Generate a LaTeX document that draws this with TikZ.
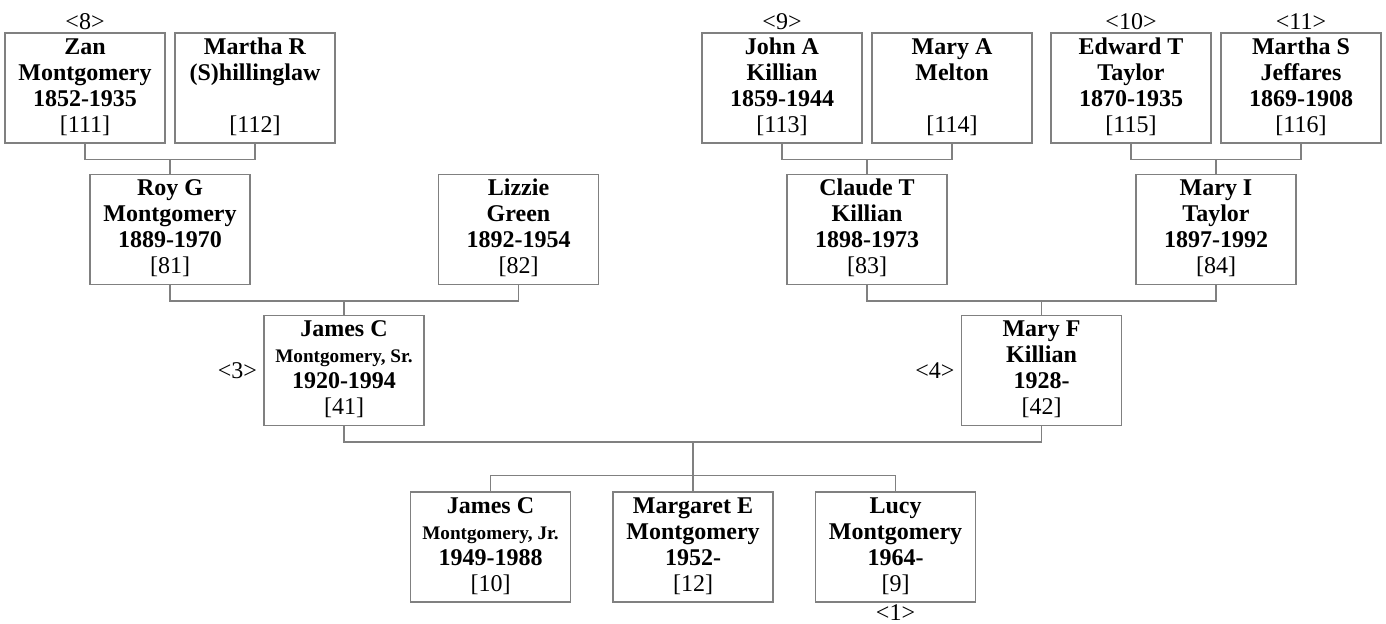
\documentclass[tikz,border=0pt]{standalone}
\usepackage{fontspec}
\setmainfont{Liberation Serif}
\usepackage{tikz}
\usetikzlibrary{positioning}
\tikzstyle{person} = [rectangle, draw=gray, line width=0.6pt, minimum width=80pt, minimum height=55pt, inner sep=0pt, align=center, font=\fontsize{12}{13}\selectfont]
\tikzstyle{link} = [draw=gray, line width=0.6pt]
\tikzstyle{tag} = [inner sep=1pt, font=\fontsize{12}{13}\selectfont]
\newcommand{\who}[4]{\textbf{#1}\strut\\\textbf{#2}\strut\\\textbf{#3}\strut\\{[#4]}\strut}
\newcommand{\suffixname}[1]{{\fontsize{9.6}{13}\selectfont #1}}

\begin{document}
\begin{tikzpicture}[x=0.5pt, y=-0.5pt, node distance=85pt]
    \useasboundingbox (0,0) rectangle (1386,624);
    % Great-grandparents
    \node [person] (zan) at (85,88) {\who{Zan}{Montgomery}{1852-1935}{111}};
    \node [person, right of=zan] (martha) {\who{Martha R}{(S)hillinglaw}{}{112}};
    \node [person] (john) at (782,88) {\who{John A}{Killian}{1859-1944}{113}};
    \node [person, right of=john] (marya) {\who{Mary A}{Melton}{}{114}};
    \node [person] (edward) at (1131,88) {\who{Edward T}{Taylor}{1870-1935}{115}};
    \node [person, right of=edward] (marthas) {\who{Martha S}{Jeffares}{1869-1908}{116}};

    % Grandparents
    \node [person] (roy) at (170,229.5) {\who{Roy G}{Montgomery}{1889-1970}{81}};
    \node [person] (lizzie) at (518.5,229.5) {\who{Lizzie}{Green}{1892-1954}{82}};
    \node [person] (claude) at (867,229.5) {\who{Claude T}{Killian}{1898-1973}{83}};
    \node [person] (maryi) at (1216,229.5) {\who{Mary I}{Taylor}{1897-1992}{84}};

    % Parents
    \node [person] (james) at (344,370.5) {\who{James C}{\suffixname{Montgomery, Sr.}}{1920-1994}{41}};
    \node [person] (maryf) at (1041.5,370.5) {\who{Mary F}{Killian}{1928-}{42}};

    % Children
    \node [person] (jr) at (490.5,547) {\who{James C}{\suffixname{Montgomery, Jr.}}{1949-1988}{10}};
    \node [person, right of=jr, node distance=101.25pt] (margaret) {\who{Margaret E}{Montgomery}{1952-}{12}};
    \node [person, right of=margaret, node distance=101.25pt] (lucy) {\who{Lucy}{Montgomery}{1964-}{9}};

    % Numbers
    \node [tag, above=0pt of zan] (t8) {\textless8\textgreater};
    \node [tag, above=0pt of john] (t9) {\textless9\textgreater};
    \node [tag, above=0pt of edward] (t10) {\textless10\textgreater};
    \node [tag, above=0pt of marthas] (t11) {\textless11\textgreater};
    \node [tag, left=2pt of james] (t3) {\textless3\textgreater};
    \node [tag, left=2pt of maryf] (t4) {\textless4\textgreater};
    \node [tag, below=0pt of lucy] (t1) {\textless1\textgreater};

    % Lines
    \foreach \a/\b/\c in {zan/martha/roy, john/marya/claude, edward/marthas/maryi, roy/lizzie/james, claude/maryi/maryf} {
        \draw [link] (\a.south) -- ++(0,16) coordinate (bar-\c) -| (\b.south);
        \draw [link] (\c.north) -- (\c.north |- bar-\c);
    }
    \draw [link] (james.south) -- ++(0,16) coordinate (bar-kids) -| (maryf.south);
    \draw [link] (margaret.north) -- (margaret.north |- bar-kids);
    \draw [link] (jr.north) -- ++(0,-16) -| (lucy.north);
\end{tikzpicture}
\end{document}
